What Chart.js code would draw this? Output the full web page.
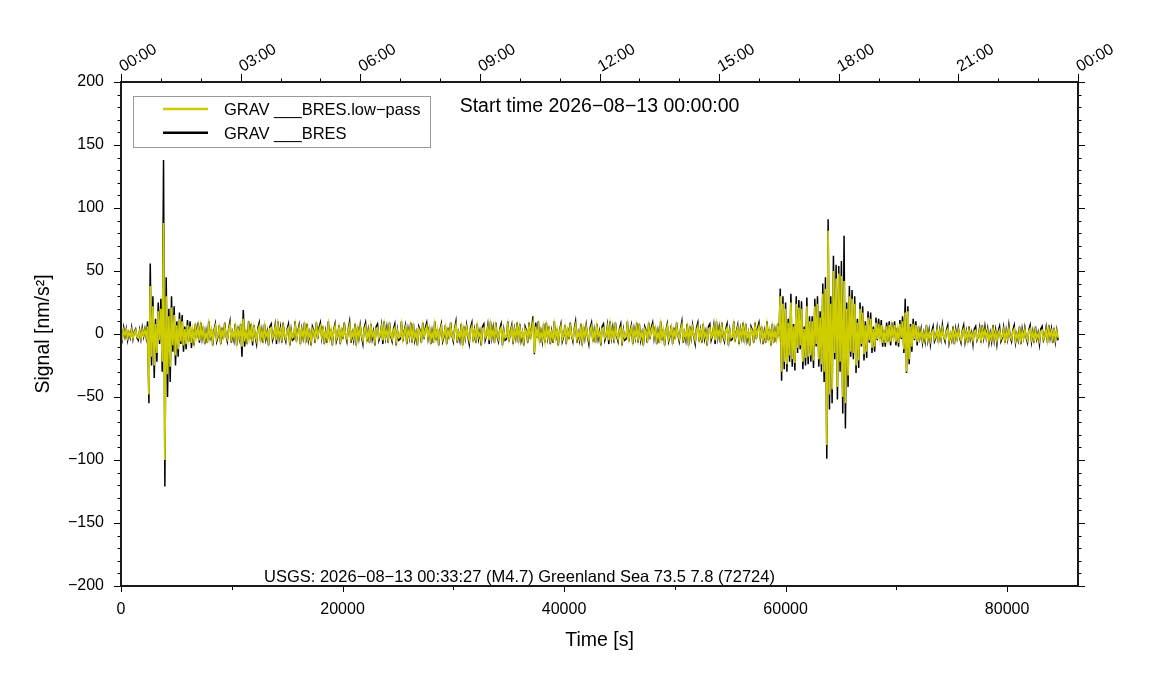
<!DOCTYPE html>
<html lang="en">
<head>
  <meta charset="UTF-8">
  <title>GRAV BRES signal</title>
  <script src="https://cdn.jsdelivr.net/npm/chart.js"></script>
  <style>
    html, body { margin: 0; padding: 0; background: #fff; }
    canvas { display: block; }
  </style>
</head>
<body>
  <canvas id="signal" width="1151" height="700"></canvas>

  <script>
    // trace is sampled every 120 s, starting at 0 s
    const sampleStep = 120;

    // raw trace, nm/s^2
    const bres = [
      3, -4, 5, -2, 4, -5, 1, -3, 5, -4,
      2, 4, -3, -5, 3, -4, 5, -2, 4, -3,
      10, -55, 56, -25, 30, -35, 12, -22, 25, -8,
      28, -30, 138, -121, 45, -50, 20, -38, 30, -14,
      22, -25, 10, -18, 17, -8, 15, -14, 6, -12,
      11, -6, 10, -11, 4, -9, 8, -3, 9, -7,
      9, -3, 6, -8, 2, -7, 10, -5, 4, -9,
      3, 8, -6, -2, 7, -8, 5, -4, 9, -1,
      -6, 4, 10, -7, 1, -5, 8, -9, 6, -3,
      8, -18, 19, -10, 3, -8, 10, -4, 8, -9,
      7, -2, -8, 5, 9, -6, 3, -7, 8, -4,
      2, -9, 6, 8, -5, -1, 7, -8, 10, -3,
      5, -7, 9, -2, -6, 4, 8, -9, 3, -5,
      -4, 10, -6, 2, 7, -8, 4, -3, 9, -7,
      8, -5, 1, -9, 6, 3, -7, 9, -4, 5,
      9, -3, 6, -8, 2, -7, 10, -5, 4, -9,
      3, 8, -6, -2, 7, -8, 5, -4, 9, -1,
      -6, 4, 10, -7, 1, -5, 8, -9, 6, -3,
      7, -2, -8, 5, 9, -6, 3, -7, 8, -4,
      2, -9, 6, 8, -5, -1, 7, -8, 10, -3,
      5, -7, 9, -2, -6, 4, 8, -9, 3, -5,
      -4, 10, -6, 2, 7, -8, 4, -3, 9, -7,
      8, -5, 1, -9, 6, 3, -7, 9, -4, 5,
      9, -3, 6, -8, 2, -7, 10, -5, 4, -9,
      3, 8, -6, -2, 7, -8, 5, -4, 9, -1,
      -6, 4, 10, -7, 1, -5, 8, -9, 6, -3,
      7, -2, -8, 5, 9, -6, 3, -7, 8, -4,
      2, -9, 6, 8, -5, -1, 7, -8, 10, -3,
      5, -7, 9, -2, -6, 4, 8, -9, 3, -5,
      -4, 10, -6, 2, 7, -8, 4, -3, 9, -7,
      8, -5, 1, -9, 6, 3, -7, 9, -4, 5,
      14, -16, 9, -3, 10, -7, 2, -6, 8, -7,
      9, -3, 6, -8, 2, -7, 10, -5, 4, -9,
      3, 8, -6, -2, 7, -8, 5, -4, 9, -1,
      -6, 4, 10, -7, 1, -5, 8, -9, 6, -3,
      7, -2, -8, 5, 9, -6, 3, -7, 8, -4,
      2, -9, 6, 8, -5, -1, 7, -8, 10, -3,
      5, -7, 9, -2, -6, 4, 8, -9, 3, -5,
      -4, 10, -6, 2, 7, -8, 4, -3, 9, -7,
      8, -5, 1, -9, 6, 3, -7, 9, -4, 5,
      9, -3, 6, -8, 2, -7, 10, -5, 4, -9,
      3, 8, -6, -2, 7, -8, 5, -4, 9, -1,
      -6, 4, 10, -7, 1, -5, 8, -9, 6, -3,
      7, -2, -8, 5, 9, -6, 3, -7, 8, -4,
      2, -9, 6, 8, -5, -1, 7, -8, 10, -3,
      5, -7, 9, -2, -6, 4, 8, -9, 3, -5,
      -4, 10, -6, 2, 7, -8, 4, -3, 9, -7,
      8, -5, 1, -9, 6, 3, -7, 9, -4, 5,
      9, -3, 6, -8, 2, -7, 10, -5, 4, -9,
      8, -7, 3, -6, 8, -2, 36, -37, 30, -28,
      25, -30, 12, -22, 32, -26, 8, -29, 30, -15,
      27, -12, 26, -28, 6, -25, 29, -24, 14, -22,
      14, -27, 28, -10, 30, -26, 18, -30, 40, -38,
      45, -99, 91, -60, 30, -55, 62, -20, 55, -52,
      54, -30, 58, -63, 78, -75, 25, -42, 38, -18,
      35, -20, 30, -31, 12, -27, 25, -10, 22, -21,
      10, -19, 18, -7, 17, -15, 6, -14, 13, -5,
      12, -4, 11, -10, 3, -10, 9, -6, 10, -9,
      9, -3, 10, -9, 5, -10, 11, -4, 14, -15,
      28, -31, 22, -24, 8, -14, 12, -5, 10, -9,
      6, -3, 4, -7, 1, -6, 7, -5, 3, -8,
      2, 6, -6, -3, 5, -7, 3, -4, 7, -2,
      -6, 3, 7, -7, 0, -5, 6, -8, 4, -3,
      5, -3, -7, 3, 7, -6, 2, -7, 6, -4,
      1, -8, 4, 6, -5, -2, 5, -7, 7, -3,
      6, -3, 4, -7, 1, -6, 7, -5, 3, -8,
      2, 6, -6, -3, 5, -7, 3, -4, 7, -2,
      -6, 3, 7, -7, 0, -5, 6, -8, 4, -3,
      5, -3, -7, 3, 7, -6, 2, -7, 6, -4,
      1, -8, 4, 6, -5, -2, 5, -7, 7, -3,
      4, -7, 5, -6, 3, -5
    ];

    // low-pass filtered trace, nm/s^2
    const bresLowpass = [
      2, -3, 3, -1, 3, -3, 1, -2, 3, -3,
      1, 3, -2, -3, 2, -3, 3, -1, 3, -2,
      6, -48, 38, -18, 22, -25, 8, -15, 18, -5,
      20, -22, 88, -100, 30, -32, 14, -26, 21, -9,
      15, -17, 7, -12, 12, -6, 10, -9, 4, -8,
      7, -4, 6, -7, 3, -6, 5, -2, 6, -5,
      6, -2, 4, -5, 1, -4, 7, -3, 3, -6,
      2, 6, -4, -1, 5, -5, 3, -2, 6, -1,
      -4, 3, 7, -4, 1, -3, 5, -6, 4, -2,
      5, -10, 12, -6, 2, -5, 6, -3, 5, -6,
      5, -1, -5, 3, 6, -4, 2, -4, 6, -2,
      1, -6, 4, 5, -3, -1, 5, -5, 7, -2,
      3, -4, 6, -1, -4, 3, 5, -6, 2, -3,
      -2, 7, -4, 1, 5, -5, 3, -2, 6, -4,
      5, -3, 1, -6, 4, 2, -4, 6, -2, 3,
      6, -2, 4, -5, 1, -4, 7, -3, 3, -6,
      2, 6, -4, -1, 5, -5, 3, -2, 6, -1,
      -4, 3, 7, -4, 1, -3, 5, -6, 4, -2,
      5, -1, -5, 3, 6, -4, 2, -4, 6, -2,
      1, -6, 4, 5, -3, -1, 5, -5, 7, -2,
      3, -4, 6, -1, -4, 3, 5, -6, 2, -3,
      -2, 7, -4, 1, 5, -5, 3, -2, 6, -4,
      5, -3, 1, -6, 4, 2, -4, 6, -2, 3,
      6, -2, 4, -5, 1, -4, 7, -3, 3, -6,
      2, 6, -4, -1, 5, -5, 3, -2, 6, -1,
      -4, 3, 7, -4, 1, -3, 5, -6, 4, -2,
      5, -1, -5, 3, 6, -4, 2, -4, 6, -2,
      1, -6, 4, 5, -3, -1, 5, -5, 7, -2,
      3, -4, 6, -1, -4, 3, 5, -6, 2, -3,
      -2, 7, -4, 1, 5, -5, 3, -2, 6, -4,
      5, -3, 1, -6, 4, 2, -4, 6, -2, 3,
      9, -15, 6, -2, 6, -5, 1, -4, 5, -5,
      6, -2, 4, -5, 1, -4, 7, -3, 3, -6,
      2, 6, -4, -1, 5, -5, 3, -2, 6, -1,
      -4, 3, 7, -4, 1, -3, 5, -6, 4, -2,
      5, -1, -5, 3, 6, -4, 2, -4, 6, -2,
      1, -6, 4, 5, -3, -1, 5, -5, 7, -2,
      3, -4, 6, -1, -4, 3, 5, -6, 2, -3,
      -2, 7, -4, 1, 5, -5, 3, -2, 6, -4,
      5, -3, 1, -6, 4, 2, -4, 6, -2, 3,
      6, -2, 4, -5, 1, -4, 7, -3, 3, -6,
      2, 6, -4, -1, 5, -5, 3, -2, 6, -1,
      -4, 3, 7, -4, 1, -3, 5, -6, 4, -2,
      5, -1, -5, 3, 6, -4, 2, -4, 6, -2,
      1, -6, 4, 5, -3, -1, 5, -5, 7, -2,
      3, -4, 6, -1, -4, 3, 5, -6, 2, -3,
      -2, 7, -4, 1, 5, -5, 3, -2, 6, -4,
      5, -3, 1, -6, 4, 2, -4, 6, -2, 3,
      6, -2, 4, -5, 1, -4, 7, -3, 3, -6,
      5, -4, 2, -4, 5, -1, 30, -30, 24, -22,
      20, -24, 9, -17, 25, -20, 6, -23, 24, -11,
      21, -9, 20, -22, 4, -19, 22, -18, 10, -17,
      10, -21, 22, -8, 24, -20, 13, -24, 32, -30,
      36, -88, 82, -48, 24, -44, 50, -15, 44, -42,
      48, -22, 46, -50, 42, -55, 20, -33, 30, -14,
      28, -15, 24, -25, 9, -21, 20, -8, 17, -16,
      7, -14, 13, -5, 12, -11, 4, -10, 9, -4,
      8, -3, 7, -7, 2, -7, 6, -4, 7, -6,
      6, -2, 7, -6, 3, -7, 8, -3, 10, -12,
      17, -30, 18, -20, 6, -10, 8, -4, 7, -6,
      3, -3, 2, -5, 0, -4, 4, -4, 1, -5,
      1, 3, -4, -2, 3, -5, 2, -3, 4, -2,
      -4, 2, 4, -5, 0, -4, 3, -5, 2, -3,
      3, -2, -5, 2, 4, -4, 1, -5, 3, -3,
      0, -5, 2, 3, -4, -2, 3, -5, 4, -2,
      3, -3, 2, -5, 0, -4, 4, -4, 1, -5,
      1, 3, -4, -2, 3, -5, 2, -3, 4, -2,
      -4, 2, 4, -5, 0, -4, 3, -5, 2, -3,
      3, -2, -5, 2, 4, -4, 1, -5, 3, -3,
      0, -5, 2, 3, -4, -2, 3, -5, 4, -2,
      2, -4, 3, -4, 2, -3
    ];

    const seriesNames = ['GRAV ___BRES.low\u2212pass', 'GRAV ___BRES'];
    const seriesColors = ['#cdcd00', '#000000'];

    const xTicks = [0, 20000, 40000, 60000, 80000];
    const yTicks = [-200, -150, -100, -50, 0, 50, 100, 150, 200];
    const hourTicks = [0, 10800, 21600, 32400, 43200, 54000, 64800, 75600, 86400];
    const hourLabels = ['00:00', '03:00', '06:00', '09:00', '12:00', '15:00', '18:00', '21:00', '00:00'];

    const startText = 'Start time 2026\u221208\u221213 00:00:00';
    const eventText = 'USGS: 2026\u221208\u221213 00:33:27 (M4.7) Greenland Sea 73.5 7.8 (72724)';

    const FONT = "'Liberation Sans', Arial, Helvetica, sans-serif";
    const minus = v => String(v).replace('-', '\u2212');

    // GMT-like frame: outward ticks on all sides, hour axis on top, legend and notes
    const gmtFrame = {
      id: 'gmtFrame',
      afterDraw(chart) {
        const { ctx, chartArea: a, scales: { x, y } } = chart;
        ctx.save();

        ctx.strokeStyle = '#000';
        ctx.lineWidth = 1;
        ctx.beginPath();
        for (let v = -200; v <= 200; v += 10) {
          const py = Math.round(y.getPixelForValue(v)) + 0.5;
          const len = v % 50 === 0 ? 7 : 3.5;
          ctx.moveTo(a.left - len, py); ctx.lineTo(a.left, py);
          ctx.moveTo(a.right, py); ctx.lineTo(a.right + len, py);
        }
        for (let v = 0; v <= 80000; v += 10000) {
          const px = Math.round(x.getPixelForValue(v)) + 0.5;
          const len = v % 20000 === 0 ? 6 : 4;
          ctx.moveTo(px, a.bottom); ctx.lineTo(px, a.bottom + len);
        }
        for (let v = 0; v <= 86400; v += 3600) {
          const px = Math.round(x.getPixelForValue(v)) + 0.5;
          const len = v % 10800 === 0 ? 8 : 3.5;
          ctx.moveTo(px, a.top); ctx.lineTo(px, a.top - len);
        }
        ctx.stroke();

        ctx.strokeStyle = '#1a1a1a';
        ctx.lineWidth = 2;
        ctx.strokeRect(a.left, a.top, a.right - a.left, a.bottom - a.top);

        // hour labels on the top axis
        ctx.fillStyle = '#000';
        ctx.font = '16px ' + FONT;
        ctx.textAlign = 'left';
        ctx.textBaseline = 'alphabetic';
        hourTicks.forEach((v, i) => {
          ctx.save();
          ctx.translate(x.getPixelForValue(v) + 2, a.top - 10);
          ctx.rotate(-Math.PI / 6);
          ctx.fillText(hourLabels[i], 0, 0);
          ctx.restore();
        });

        ctx.font = '19.5px ' + FONT;
        ctx.textAlign = 'center';
        ctx.fillText(startText, (a.left + a.right) / 2, a.top + 30);

        ctx.font = '16.5px ' + FONT;
        ctx.textAlign = 'left';
        ctx.fillText(eventText, a.left + 143, a.bottom - 4);

        // legend box
        const lx = a.left + 12.5, ly = a.top + 14.5, lw = 297, lh = 51;
        ctx.fillStyle = '#fff';
        ctx.fillRect(lx, ly, lw, lh);
        ctx.strokeStyle = '#999';
        ctx.lineWidth = 1;
        ctx.strokeRect(lx, ly, lw, lh);
        chart.data.datasets.forEach((ds, i) => {
          const rowY = ly + 12.5 + i * 23.7;
          ctx.strokeStyle = ds.borderColor;
          ctx.lineWidth = 2.5;
          ctx.beginPath();
          ctx.moveTo(a.left + 42, rowY);
          ctx.lineTo(a.left + 87, rowY);
          ctx.stroke();
          ctx.fillStyle = '#000';
          ctx.font = '16.5px ' + FONT;
          ctx.fillText(ds.label, a.left + 103, rowY + 6);
        });

        ctx.restore();
      }
    };

    const toPoints = arr => arr.map((v, i) => ({ x: i * sampleStep, y: v }));

    new Chart(document.getElementById('signal').getContext('2d'), {
      type: 'line',
      data: {
        datasets: [
          { label: seriesNames[0], data: toPoints(bresLowpass), borderColor: seriesColors[0], borderWidth: 1.7 },
          { label: seriesNames[1], data: toPoints(bres), borderColor: seriesColors[1], borderWidth: 1.5 }
        ]
      },
      options: {
        responsive: false,
        animation: false,
        layout: { padding: { top: 82, right: 73, left: 0, bottom: 0 } },
        elements: { point: { radius: 0 }, line: { tension: 0 } },
        plugins: { legend: { display: false }, tooltip: { enabled: false } },
        scales: {
          x: {
            type: 'linear', min: 0, max: 86400,
            afterBuildTicks: s => { s.ticks = xTicks.map(v => ({ value: v })); },
            afterFit: s => { s.height = 114; },
            grid: { display: false, drawTicks: false },
            border: { display: false },
            ticks: { padding: 14, autoSkip: false, maxRotation: 0, color: '#000',
                     font: { family: FONT, size: 16 }, callback: v => String(v) },
            title: { display: true, text: 'Time [s]', color: '#000',
                     font: { family: FONT, size: 19.5 }, padding: { top: 0, bottom: 48 } }
          },
          y: {
            type: 'linear', min: -200, max: 200,
            afterBuildTicks: s => { s.ticks = yTicks.map(v => ({ value: v })); },
            afterFit: s => { s.width = 121; },
            grid: { display: false, drawTicks: false },
            border: { display: false },
            ticks: { padding: 17, color: '#000', font: { family: FONT, size: 16 }, callback: minus },
            title: { display: true, text: 'Signal [nm/s\u00b2]', color: '#000',
                     font: { family: FONT, size: 19.5 }, padding: { top: 32, bottom: 0 } }
          }
        }
      },
      plugins: [gmtFrame]
    });
  </script>
</body>
</html>
